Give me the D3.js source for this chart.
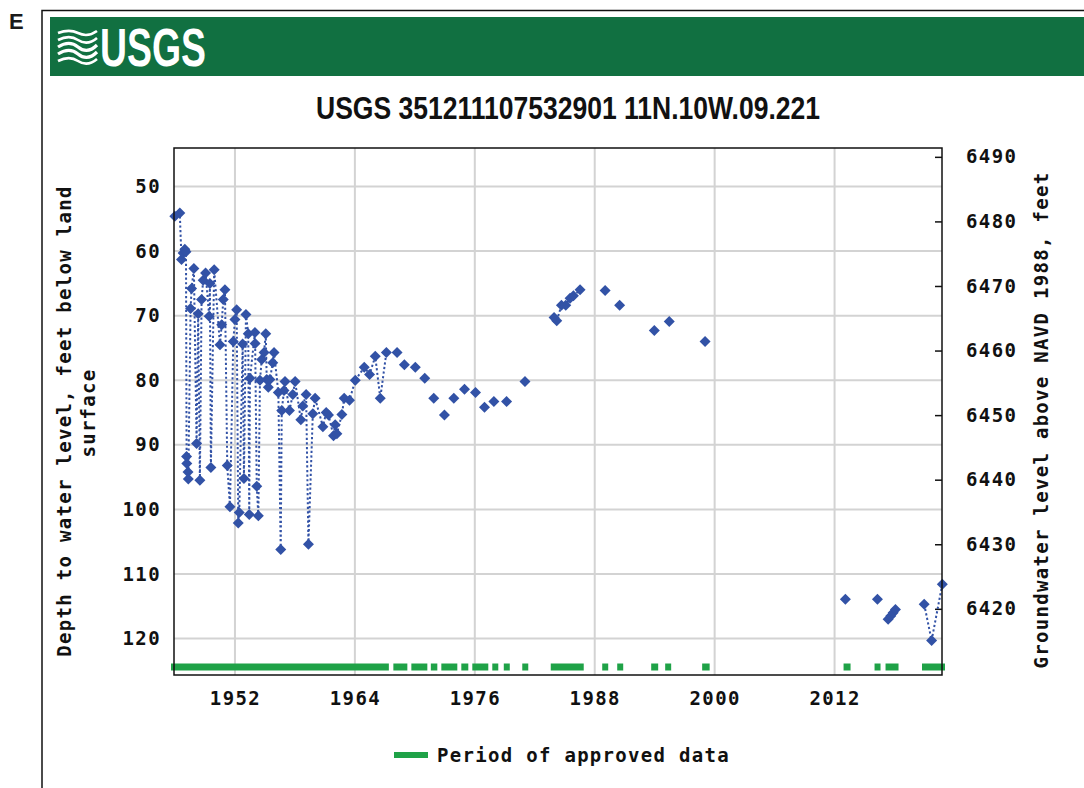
<!DOCTYPE html>
<html><head><meta charset="utf-8">
<script src="https://cdn.jsdelivr.net/npm/d3@7"></script>
<style>body{margin:0;background:#fff;} svg{display:block}</style>
</head><body><svg id="c" width="1084" height="788"></svg>
<script>
// ---------------- DATA ----------------
// Measurement dates (decimal years) and depth to water (feet below land surface); null = line break
const years = [
  1945.98,1946.48,1946.65,1946.81,1946.98,1947.10,1947.16,1947.18,1947.30,1947.33,
  1947.56,1947.66,1947.89,1948.16,1948.32,1948.49,1948.66,1948.82,1949.06,1949.42,
  1949.49,1949.59,1949.92,1950.50,1950.67,1950.83,1951.00,1951.23,1951.50,1951.83,
  1952.00,1952.17,1952.33,1952.43,1952.77,1952.90,1953.10,1953.33,1953.43,1953.50,
  1954.00,1954.02,1954.18,1954.34,1954.50,1954.68,1954.91,1955.08,1955.18,1955.34,
  1955.50,1955.78,1955.91,1956.34,1956.58,1956.68,1956.91,1957.01,1957.45,1957.79,
  1958.02,1958.59,1958.79,1959.12,1959.35,1959.79,1960.02,1960.80,1961.13,1961.36,
  1961.86,1962.03,1962.20,1962.70,1962.93,1963.46,1964.04,1964.94,1965.47,1966.04,
  1966.54,1967.15,null,
  1968.22,null,1968.95,null,1970.05,null,1970.99,null,1971.89,null,1972.96,null,
  1973.90,null,1974.97,null,1976.07,null,1976.97,null,1977.91,null,1979.18,null,1981.02,null,
  1983.93,1984.20,1984.67,1985.10,1985.53,1985.87,1986.53,null,
  1989.04,null,1990.49,null,1993.96,null,1995.46,null,1999.04,null,
  2013.08,null,2016.29,null,
  2017.36,2017.62,2017.86,2018.09,null,
  2020.97,2021.71,2022.78
];
const depths = [
  54.6,54.1,61.3,60.3,59.7,60.1,91.8,92.9,94.2,95.3,
  68.9,65.8,62.7,89.8,69.7,95.5,67.5,64.5,63.4,70.1,
  65.0,93.5,62.9,74.5,71.4,67.5,66.0,93.2,99.6,74.0,
  70.6,69.1,102.1,100.5,74.4,95.2,69.8,72.8,100.8,79.7,
  72.6,74.3,96.4,101.0,80.0,76.8,75.7,72.8,79.9,81.1,
  79.9,77.3,75.7,81.9,106.2,84.7,81.6,80.2,84.7,82.2,
  80.2,86.1,84.0,82.2,105.4,85.2,82.8,87.2,85.0,85.4,
  88.6,86.9,88.3,85.3,82.8,83.1,80.0,78.0,79.1,76.3,
  82.8,75.7,null,
  75.7,null,77.6,null,78.0,null,79.7,null,82.8,null,85.4,null,
  82.8,null,81.4,null,81.9,null,84.2,null,83.3,null,83.3,null,80.2,null,
  70.3,70.8,68.4,68.4,67.3,66.9,66.0,null,
  66.1,null,68.4,null,72.3,null,70.9,null,74.0,null,
  113.9,null,113.9,null,
  117.0,116.5,116.0,115.5,null,
  114.7,120.3,111.6
];
// Period of approved data (decimal years)
const approvedStart = [1945.6,1967.85,1969.65,1971.6,1972.65,1974.65,1975.75,1977.75,1978.9,1980.75,1983.6,1988.75,1990.25,1993.65,1995.05,1998.75,2012.9,2016.0,2017.1,2020.75];
const approvedEnd   = [1967.4,1969.25,1971.25,1972.25,1974.25,1975.35,1977.35,1978.35,1979.5,1981.35,1986.9,1989.35,1990.85,1994.35,1995.65,1999.5,2013.6,2016.6,2018.4,2023.05];
const xTicks = [1952,1964,1976,1988,2000,2012];
const leftTicks = [50,60,70,80,90,100,110,120];
const rightTicks = [6420,6430,6440,6450,6460,6470,6480,6490];
const landSurface = 6535.4; // feet above NAVD 1988
const title = "USGS 351211107532901 11N.10W.09.221";

// ---------------- LAYOUT ----------------
const L = 174, R = 942, T = 148, B = 675;
const svg = d3.select("#c");
const mono = "'DejaVu Sans Mono', 'Liberation Mono', monospace";
const blue = "#3252a6", green = "#1fa247", grid = "#d3d3d3";

const x = d3.scaleLinear().domain([1945.9, 2022.75]).range([L, R]);
const y = d3.scaleLinear().domain([44.03, 125.65]).range([T, B]);
const yR = d3.scaleLinear().domain([landSurface - 44.03, landSurface - 125.65]).range([T, B]);

// Panel letter and outer frame
svg.append("text").attr("x", 9).attr("y", 29).text("E")
  .attr("font-family", "'Liberation Sans', Arial, sans-serif").attr("font-weight", "bold").attr("font-size", 22).attr("fill", "#1a1a1a");
svg.append("path").attr("d", "M42,788V10.5H1084").attr("fill", "none").attr("stroke", "#111").attr("stroke-width", 1.5);

// Header
svg.append("rect").attr("x", 50).attr("y", 17).attr("width", 1034).attr("height", 59).attr("fill", "#117041");
const logo = svg.append("g").attr("transform", "translate(58,29)");
const wave = (yo, amp) => `M0,${yo} C8,${yo-amp} 14,${yo-amp} 20,${yo} S32,${yo+amp} 39,${yo-2}`;
[[4,3,2.6],[11,4,2.6],[18,5,3.2],[25,5,3.2],[32,4,2.6]].forEach(([yo,a,w]) => {
  logo.append("path").attr("d", wave(yo, a)).attr("fill", "none").attr("stroke", "#fff").attr("stroke-width", w);
});
svg.append("text").attr("x", 100).attr("y", 66).text("USGS")
  .attr("font-family", "'Liberation Sans Narrow', 'Arial Narrow', 'Liberation Sans', sans-serif")
  .attr("font-weight", "bold").attr("font-size", 54).attr("fill", "#fff")
  .attr("textLength", 106).attr("lengthAdjust", "spacingAndGlyphs");

// Title
svg.append("text").attr("x", 568).attr("y", 119).attr("text-anchor", "middle").text(title)
  .attr("font-family", "'Liberation Sans Narrow', 'Arial Narrow', 'Liberation Sans', sans-serif")
  .attr("font-weight", "bold").attr("font-size", 32).attr("fill", "#111")
  .attr("textLength", 504).attr("lengthAdjust", "spacingAndGlyphs");

// Gridlines
const g = svg.append("g");
g.selectAll(".hg").data(leftTicks).join("line")
  .attr("x1", L).attr("x2", R).attr("y1", d => y(d)).attr("y2", d => y(d))
  .attr("stroke", grid).attr("stroke-width", 2);
g.selectAll(".vg").data(xTicks).join("line")
  .attr("y1", T).attr("y2", B).attr("x1", d => x(d)).attr("x2", d => x(d))
  .attr("stroke", grid).attr("stroke-width", 2);

// Axes
function styleAxis(sel) {
  sel.select(".domain").remove();
  sel.selectAll("text").attr("font-family", mono).attr("font-weight", "bold")
    .attr("font-size", 19).attr("fill", "#111").attr("letter-spacing", 1.4);
}
svg.append("g").attr("transform", `translate(${L},0)`)
  .call(d3.axisLeft(y).tickValues(leftTicks).tickSize(0).tickPadding(13))
  .call(styleAxis);
svg.append("g").attr("transform", `translate(0,${B})`)
  .call(d3.axisBottom(x).tickValues(xTicks).tickFormat(d3.format("d")).tickSize(0).tickPadding(17))
  .call(styleAxis);
const ra = svg.append("g").attr("transform", `translate(${R},0)`)
  .call(d3.axisRight(yR).tickValues(rightTicks).tickFormat(d3.format("d")).tickSize(-7).tickPadding(24))
  .call(styleAxis);
ra.selectAll("line").attr("stroke", "#111").attr("stroke-width", 1.5);

// Approved data bars
svg.append("g").selectAll("line").data(d3.range(approvedStart.length)).join("line")
  .attr("x1", i => x(approvedStart[i])).attr("x2", i => x(approvedEnd[i]))
  .attr("y1", 667).attr("y2", 667).attr("stroke", green).attr("stroke-width", 7);

// Data line + markers
const pts = years.map((yr, i) => ({ yr, d: depths[i] }));
const line = d3.line().defined(p => p.d != null).x(p => x(p.yr)).y(p => y(p.d));
svg.append("path").attr("d", line(pts)).attr("fill", "none").attr("stroke", blue)
  .attr("stroke-width", 2).attr("stroke-dasharray", "2.2,2.4");
svg.append("g").selectAll("path").data(pts.filter(p => p.d != null)).join("path")
  .attr("transform", p => `translate(${x(p.yr)},${y(p.d)})`)
  .attr("d", "M0,-5.5L5.5,0L0,5.5L-5.5,0Z").attr("fill", blue);

// Plot border
svg.append("rect").attr("x", L).attr("y", T).attr("width", R - L).attr("height", B - T)
  .attr("fill", "none").attr("stroke", "#111").attr("stroke-width", 1.5);

// Axis titles
const at = (tx, ty, s) => svg.append("text").attr("transform", `translate(${tx},${ty}) rotate(-90)`)
  .attr("text-anchor", "middle").text(s).attr("font-family", mono).attr("font-weight", "bold")
  .attr("font-size", 19).attr("letter-spacing", 1.3).attr("fill", "#111");
at(71, 421, "Depth to water level, feet below land");
at(95, 413, "surface");
at(1048, 420, "Groundwater level above NAVD 1988, feet");

// Legend
svg.append("line").attr("x1", 394).attr("x2", 428).attr("y1", 755).attr("y2", 755)
  .attr("stroke", green).attr("stroke-width", 6);
svg.append("text").attr("x", 437).attr("y", 762).text("Period of approved data")
  .attr("font-family", mono).attr("font-weight", "bold").attr("font-size", 19)
  .attr("letter-spacing", 1.3).attr("fill", "#111");
</script></body></html>
